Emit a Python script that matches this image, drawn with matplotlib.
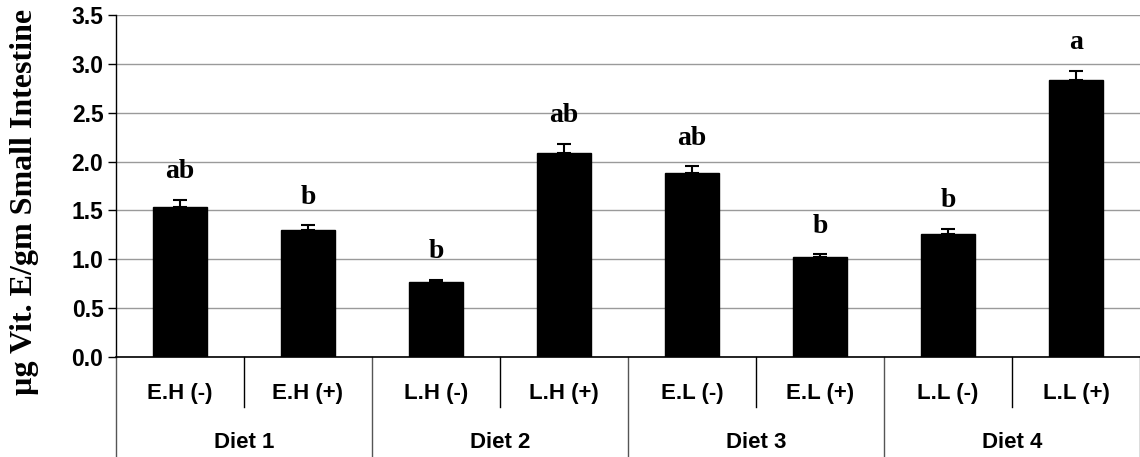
import numpy as np
import matplotlib
matplotlib.use("Agg")
import matplotlib.pyplot as plt
from matplotlib.transforms import blended_transform_factory

# vitamin E per gram of small intestine, by diet group
groups = ["E.H (-)", "E.H (+)", "L.H (-)", "L.H (+)",
          "E.L (-)", "E.L (+)", "L.L (-)", "L.L (+)"]
diets = ["Diet 1", "Diet 2", "Diet 3", "Diet 4"]
means = [1.54, 1.30, 0.77, 2.09, 1.88, 1.02, 1.26, 2.83]
errors = [0.07, 0.05, 0.02, 0.09, 0.07, 0.03, 0.05, 0.10]
letters = ["ab", "b", "b", "ab", "ab", "b", "b", "a"]

W, H = 1140, 457
fig = plt.figure(figsize=(W / 100, H / 100), dpi=100)
ax = fig.add_axes([116 / W, (H - 357) / H, 1 - 116 / W, 342 / H])

x = np.arange(len(groups))
ax.bar(x, means, width=0.42, color="black", edgecolor="black", zorder=3)
ax.errorbar(x, means, yerr=[np.zeros(len(errors)), errors], fmt="none",
            ecolor="black", elinewidth=1.5, capsize=5, capthick=1.5, zorder=4)

# significance letters above each error bar
for xi, m, e, lab in zip(x, means, errors, letters):
    ax.text(xi, m + e + 0.22, lab, ha="center", va="baseline",
            fontsize=20, fontweight="bold", family="Liberation Serif")

ax.set_xlim(-0.5, len(groups) - 0.5)
ax.set_ylim(0, 3.5)
ticks = np.arange(0, 3.51, 0.5)
ax.set_yticks(ticks)
ax.set_yticklabels([f"{v:.1f}" for v in ticks],
                   fontsize=16.5, fontweight="bold", family="Liberation Sans")
ax.tick_params(axis="y", direction="out", length=6, width=1, pad=3)
ax.set_xticks([])
ax.grid(axis="y", color="#9a9a9a", linewidth=1, zorder=0)

for side in ["top", "right"]:
    ax.spines[side].set_visible(False)
ax.spines["left"].set_linewidth(1)
ax.spines["bottom"].set_linewidth(1.2)

# two-level category axis drawn below the plot
trans = blended_transform_factory(ax.transData, ax.transAxes)
for i, g in enumerate(groups):
    ax.text(i, -0.123, g, transform=trans, ha="center", va="baseline",
            fontsize=16, fontweight="bold", family="Liberation Sans")
for b in np.arange(0.5, len(groups), 2):
    ax.plot([b, b], [0, -0.146], transform=trans,
            color="black", linewidth=1, clip_on=False)

for j, d in enumerate(diets):
    ax.text(2 * j + 0.5, -0.266, d, transform=trans, ha="center", va="baseline",
            fontsize=16, fontweight="bold", family="Liberation Sans")
for b in np.arange(-0.5, len(groups), 2):
    ax.plot([b, b], [0, -0.3], transform=trans, color="#555555",
            linewidth=1, clip_on=False)

fig.text(25 / W, 1 - 202 / H, "µg Vit. E/gm Small Intestine", rotation=90,
         ha="center", va="center", fontsize=23, fontweight="bold",
         family="Liberation Serif")

fig.savefig("out.png", dpi=100)
